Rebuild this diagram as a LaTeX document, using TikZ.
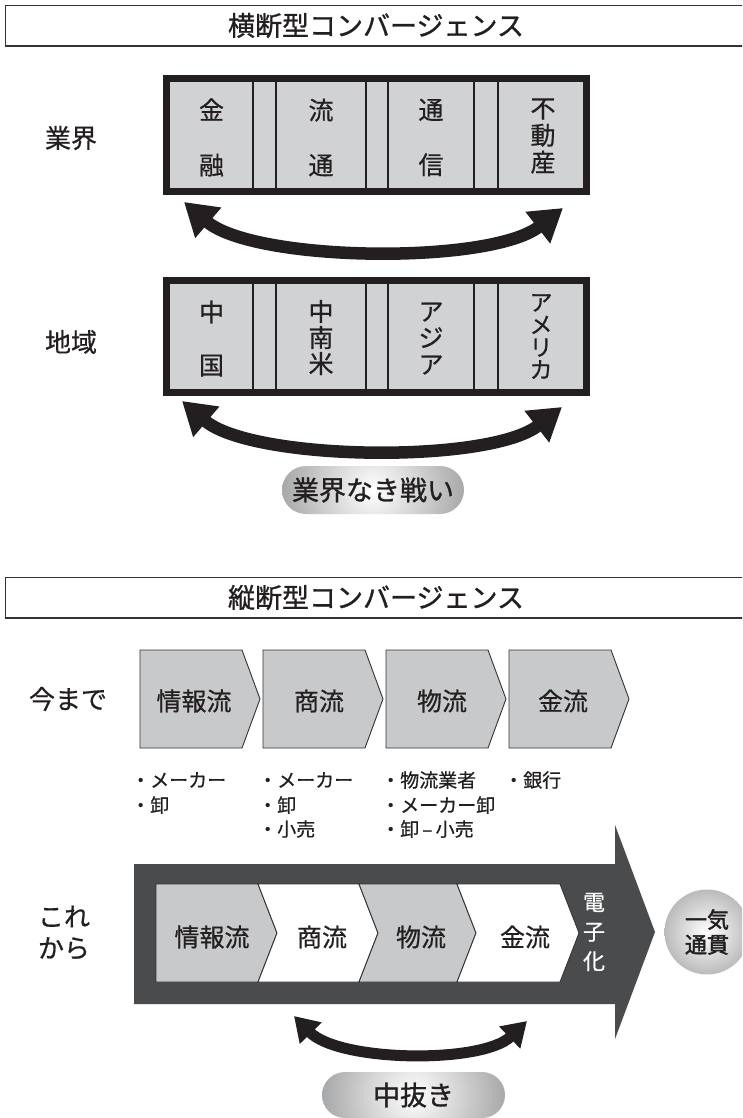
\documentclass[tikz,border=0pt]{standalone}
\usepackage{fontspec}
\newfontfamily\jp[FakeBold=0.6]{Noto Sans CJK JP}
\newfontfamily\jpm[FakeBold=1.0]{Noto Sans CJK JP}
\newfontfamily\jpb[FakeBold=2.0]{Noto Sans CJK JP}
\usetikzlibrary{arrows.meta,shapes.misc}
\definecolor{ink}{HTML}{231F20}
\definecolor{titleline}{HTML}{333333}
\definecolor{boxgray}{HTML}{D1D2D4}
\definecolor{chevgray}{HTML}{C8C9CB}
\definecolor{darkarrow}{HTML}{4A4B4D}
\definecolor{pillgray}{HTML}{7E7F81}
\tikzset{
  titlebox/.style={draw=titleline, line width=1.6pt},
  titletext/.style={font=\jpm\fontsize{27}{30}\selectfont, text=ink, inner sep=0pt},
  framebox/.style={draw=ink, line width=7pt, fill=boxgray},
  sepline/.style={draw=ink, line width=1.5pt},
  coltext/.style={text=ink, inner sep=0pt, align=center},
  sidelabel/.style={font=\jp\fontsize{26}{31.5}\selectfont, text=ink, inner sep=0pt, align=center},
  chevshape/.style={draw=titleline, line width=0.9pt},
  chevtext/.style={font=\jp\fontsize{25}{28}\selectfont, text=ink, inner sep=0pt},
  bullet/.style={font=\jp\fontsize{19}{24}\selectfont, text=ink, inner sep=0pt, anchor=west},
  dbl/.style={draw=ink, line width=12.5pt, {Triangle[width=38pt,length=32pt]}-{Triangle[width=38pt,length=32pt]}},
  dblsmall/.style={draw=ink, line width=11pt, {Triangle[width=29pt,length=24pt]}-{Triangle[width=29pt,length=24pt]}},
  pill/.style={rounded rectangle, inner sep=0pt, font=\jpm\fontsize{27}{30}\selectfont, text=ink,
    path picture={\shade[inner color=white, outer color=pillgray] (path picture bounding box.center) circle (135pt);}},
}
\begin{document}
\begin{tikzpicture}[x=1pt,y=-1pt]
\useasboundingbox (0,0) rectangle (742,1118);
\clip (0,0) rectangle (742,1118);
\fill[white] (0,0) rectangle (742,1118);

% ---------- title 1
\draw[titlebox] (5.5,5.5) rectangle (760,46);
\node[titletext] (t1) at (376,25.5) {横断型コンバージェンス};

% ---------- industries box
\node[sidelabel] (gyokai) at (71,138) {業界};
\draw[framebox] (166.5,78.5) rectangle (586.5,191.5);
\foreach \x in {253,276,366,388,474,498} \draw[sepline] (\x,82) -- (\x,188);
\node[coltext, font=\jp\fontsize{25}{55}\selectfont] (kinyu) at (211.5,137.5) {金\\融};
\node[coltext, font=\jp\fontsize{25}{55}\selectfont] (ryutsu) at (321,137.5) {流\\通};
\node[coltext, font=\jp\fontsize{25}{55}\selectfont] (tsushin) at (431,137.5) {通\\信};
\node[coltext, font=\jp\fontsize{25}{27}\selectfont] (fudosan) at (543,136) {不\\動\\産};

\coordinate (a1l) at (184,202);
\coordinate (a1r) at (563,208);
\draw[dbl] (a1l) .. controls (254,262) and (490,265) .. (a1r);

% ---------- regions box
\node[sidelabel] (chiiki) at (71,342) {地域};
\draw[framebox] (166.5,280.5) rectangle (586.5,392.5);
\foreach \x in {253,276,366,388,474,498} \draw[sepline] (\x,284) -- (\x,389);
\node[coltext, font=\jp\fontsize{25}{53}\selectfont] (chugoku) at (211.5,338.5) {中\\国};
\node[coltext, font=\jp\fontsize{25}{26}\selectfont] (chunanbei) at (321,337.5) {中\\南\\米};
\node[coltext, font=\jp\fontsize{25}{26.5}\selectfont] (asia) at (431,338.5) {ア\\ジ\\ア};
\node[coltext, font=\jp\fontsize{23}{22.5}\selectfont] (america) at (541,336.5) {ア\\メ\\リ\\カ};

\coordinate (a2l) at (182,401);
\coordinate (a2r) at (562,407);
\draw[dbl] (a2l) .. controls (252,461) and (489,464) .. (a2r);

\node[pill, minimum width=182pt, minimum height=48pt] (p1) at (373,490) {業界なき戦い};

% ---------- title 2
\draw[titlebox] (5.5,577.5) rectangle (760,618);
\node[titletext] (t2) at (376,597.5) {縦断型コンバージェンス};

% ---------- until now
\node[sidelabel] (imamade) at (68,699) {今まで};
\foreach \L in {140,263,386,509}
  \draw[chevshape, fill=chevgray] (\L,650) -- (\L+102,650) -- (\L+120,699) -- (\L+102,748) -- (\L,748) -- cycle;
\node[chevtext] (c1) at (194,701) {情報流};
\node[chevtext] (c2) at (319,701) {商流};
\node[chevtext] (c3) at (442,701) {物流};
\node[chevtext] (c4) at (563,701) {金流};

\node[bullet] (b11) at (131,780) {・メーカー};
\node[bullet] (b12) at (131,805) {・卸};
\node[bullet] (b21) at (258,780) {・メーカー};
\node[bullet] (b22) at (258,805) {・卸};
\node[bullet] (b23) at (258,829) {・小売};
\node[bullet] (b31) at (381,780) {・物流業者};
\node[bullet] (b32) at (381,805) {・メーカー卸};
\node[bullet] (b33) at (381,829) {・卸\,–\,小売};
\node[bullet] (b41) at (504,780) {・銀行};

% ---------- from now on
\node[sidelabel] (korekara) at (64,932.5) {これ\\から};
\fill[darkarrow] (134,864) -- (615,864) -- (615,825) -- (655,932) -- (615,1039) -- (615,1004) -- (134,1004) -- cycle;
\draw[chevshape, fill=chevgray] (156,884) -- (258,884) -- (277,933) -- (258,982) -- (156,982) -- cycle;
\draw[chevshape, fill=white] (258,884) -- (359,884) -- (378,933) -- (359,982) -- (258,982) -- (277,933) -- cycle;
\draw[chevshape, fill=chevgray] (359,884) -- (457,884) -- (476,933) -- (457,982) -- (359,982) -- (378,933) -- cycle;
\draw[chevshape, fill=white] (457,884) -- (560,884) -- (579,933) -- (560,982) -- (457,982) -- (476,933) -- cycle;
\node[chevtext] (d1) at (212,937) {情報流};
\node[chevtext] (d2) at (322,937) {商流};
\node[chevtext] (d3) at (421,937) {物流};
\node[chevtext] (d4) at (525,937) {金流};
\node[coltext, text=white, font=\jp\fontsize{22}{29.5}\selectfont] (denshika) at (594,932) {電\\子\\化};

\node[circle, minimum size=85pt, inner sep=0pt, align=center, text=ink,
  font=\jpb\fontsize{22}{25}\selectfont,
  path picture={\shade[inner color=white, outer color=pillgray] (path picture bounding box.center) circle (80pt);}]
  (ikki) at (707,932) {一気\\通貫};

\coordinate (a3l) at (294,1016);
\coordinate (a3r) at (527,1021);
\draw[dblsmall] (a3l) .. controls (339,1062) and (482,1064) .. (a3r);

\node[pill, minimum width=183pt, minimum height=46pt] (p2) at (413.5,1095) {中抜き};
\end{tikzpicture}
\end{document}
